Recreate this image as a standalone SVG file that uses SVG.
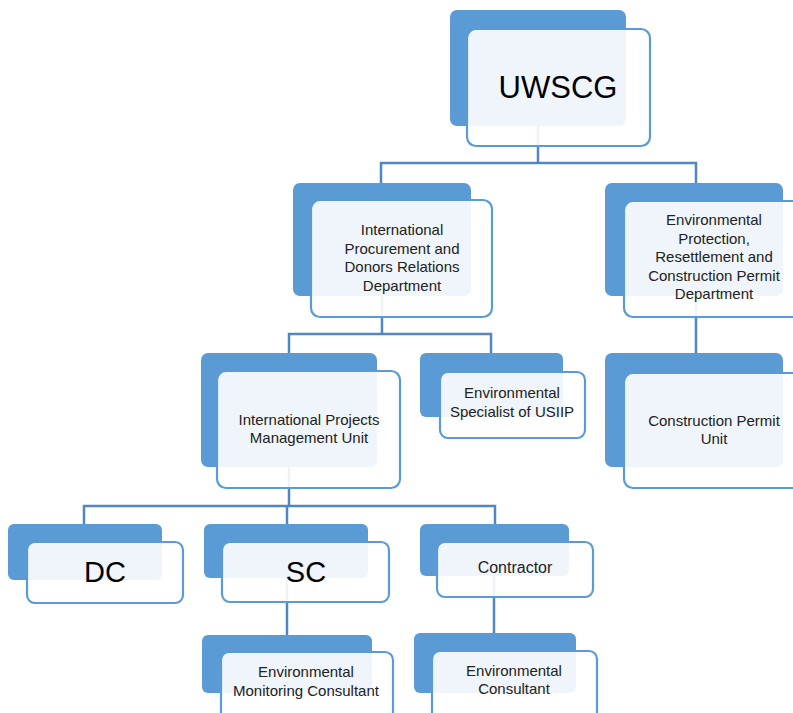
<svg xmlns="http://www.w3.org/2000/svg" width="793" height="713" viewBox="0 0 793 713">
<style>
.back{fill:#5b9bd5;}
.front{fill:#ffffff;fill-opacity:0.9;stroke:#5b9bd5;stroke-width:2.2;}
.conn{fill:none;stroke:#4f87c4;stroke-width:2.5;}
text{font-family:"Liberation Sans",Arial,sans-serif;fill:#222222;text-anchor:middle;}
.t{font-size:15px;}
.big{font-size:31px;fill:#000;}
.mid{font-size:29px;fill:#000;}
</style>
<rect x="0" y="0" width="793" height="713" fill="#ffffff"/>
<g id="connectors">
<path class="conn" d="M538 126V163M381 183V163H696V183"/>
<path class="conn" d="M382 296V334M289 353V334H491V353"/>
<path class="conn" d="M696 296V353"/>
<path class="conn" d="M289 467V506M84 524V506H495V524M287 506V524"/>
<path class="conn" d="M287 578V635"/>
<path class="conn" d="M494 576V633"/>
</g>
<g id="uwscg">
<rect class="back" x="450" y="10" width="176" height="116" rx="7"/>
<rect class="front" x="467" y="29" width="183" height="117" rx="9"/>
<text class="big" x="558" y="98">UWSCG</text>
</g>
<g id="ipdr">
<rect class="back" x="293" y="183" width="178" height="113" rx="7"/>
<rect class="front" x="311" y="200" width="181" height="117" rx="9"/>
<text class="t"><tspan x="402" y="235">International</tspan><tspan x="402" y="253.5">Procurement and</tspan><tspan x="402" y="272">Donors Relations</tspan><tspan x="402" y="290.5">Department</tspan></text>
</g>
<g id="eprcp">
<rect class="back" x="605" y="183" width="178" height="113" rx="7"/>
<rect class="front" x="624" y="201" width="185" height="116" rx="9"/>
<text class="t"><tspan x="714" y="225">Environmental</tspan><tspan x="714" y="243.5">Protection,</tspan><tspan x="714" y="262">Resettlement and</tspan><tspan x="714" y="280.5">Construction Permit</tspan><tspan x="714" y="299">Department</tspan></text>
</g>
<g id="cpu">
<rect class="back" x="605" y="353" width="178" height="114" rx="7"/>
<rect class="front" x="624" y="373" width="185" height="115" rx="9"/>
<text class="t"><tspan x="714" y="426">Construction Permit</tspan><tspan x="714" y="444">Unit</tspan></text>
</g>
<g id="ipmu">
<rect class="back" x="201" y="353" width="176" height="114" rx="7"/>
<rect class="front" x="217" y="371" width="183" height="117" rx="9"/>
<text class="t"><tspan x="309" y="425">International Projects</tspan><tspan x="309" y="443">Management Unit</tspan></text>
</g>
<g id="esusiip">
<rect class="back" x="420" y="353" width="143" height="64" rx="6"/>
<rect class="front" x="440" y="372" width="145" height="66" rx="8"/>
<text class="t"><tspan x="512" y="398">Environmental</tspan><tspan x="512" y="417">Specialist of USIIP</tspan></text>
</g>
<g id="dc">
<rect class="back" x="8" y="524" width="154" height="56" rx="6"/>
<rect class="front" x="27" y="542" width="156" height="61" rx="8"/>
<text class="mid" x="105" y="582">DC</text>
</g>
<g id="sc">
<rect class="back" x="204" y="524" width="164" height="54" rx="6"/>
<rect class="front" x="222" y="542" width="167" height="60" rx="8"/>
<text class="mid" x="306" y="582">SC</text>
</g>
<g id="contractor">
<rect class="back" x="420" y="524" width="149" height="52" rx="6"/>
<rect class="front" x="437" y="542" width="156" height="55" rx="8"/>
<text class="t" style="font-size:16px" x="515" y="573">Contractor</text>
</g>
<g id="emc">
<rect class="back" x="202" y="635" width="170" height="58" rx="6"/>
<rect class="front" x="221" y="652" width="172" height="70" rx="8"/>
<text class="t"><tspan x="306" y="677">Environmental</tspan><tspan x="306" y="696">Monitoring  Consultant</tspan></text>
</g>
<g id="ec">
<rect class="back" x="414" y="633" width="162" height="60" rx="6"/>
<rect class="front" x="432" y="651" width="165" height="70" rx="8"/>
<text class="t"><tspan x="514" y="676">Environmental</tspan><tspan x="514" y="694">Consultant</tspan></text>
</g>
</svg>
